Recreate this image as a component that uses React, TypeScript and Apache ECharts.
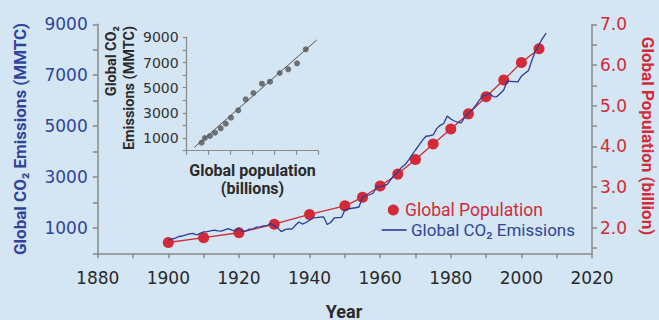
import React, { useEffect, useRef } from "react";
import * as echarts from "echarts";

// ---- Main chart data ----
const popYears = [1900, 1910, 1920, 1930, 1940, 1950, 1955, 1960, 1965, 1970, 1975, 1980, 1985, 1990, 1995, 2000, 2005];
const population = [1.64, 1.76, 1.88, 2.09, 2.33, 2.54, 2.75, 3.03, 3.32, 3.68, 4.06, 4.43, 4.8, 5.22, 5.63, 6.06, 6.4];

const co2StartYear = 1900;
const co2Emissions = [
  530, 560, 600, 660, 680, 720, 760, 780, 720, 780,
  840, 850, 880, 910, 880, 870, 920, 970, 910, 880,
  990, 850, 880, 950, 960, 1030, 1040, 1080, 1090, 1170,
  1080, 1000, 850, 930, 960, 950, 1100, 1230, 1150, 1210,
  1300, 1390, 1400, 1420, 1430, 1130, 1210, 1390, 1400, 1410,
  1690, 1750, 1770, 1790, 1820, 2200, 2280, 2300, 2360, 2610,
  2620, 2650, 2710, 2900, 3070, 3200, 3370, 3480, 3650, 3860,
  4060, 4250, 4450, 4600, 4620, 4650, 4900, 5030, 5100, 5400,
  5280, 5200, 5150, 5130, 5360, 5500, 5630, 5800, 6000, 6180,
  6220, 6290, 6160, 6150, 6280, 6420, 6770, 6760, 6750, 6740,
  6960, 7080, 7180, 7600, 7950, 8200, 8450, 8650,
];

// tick labels
const xLabelYears = [1880, 1900, 1920, 1940, 1960, 1980, 2000, 2020];
const leftLabelValues = [1000, 3000, 5000, 7000, 9000];
const rightTickValues = [1.5, 2.0, 2.5, 3.0, 3.5, 4.0, 4.5, 5.0, 5.5, 6.0, 6.5, 7.0];
const rightLabelValues = [2.0, 3.0, 4.0, 5.0, 6.0, 7.0];

// ---- Inset data ----
const insetPopulation = [1.68, 1.83, 2.06, 2.29, 2.55, 2.78, 3.02, 3.35, 3.69, 4.04, 4.43, 4.8, 5.24, 5.63, 6.03, 6.43];
const insetEmissions = [635, 1008, 1167, 1429, 1778, 2143, 2619, 3206, 4079, 4579, 5317, 5476, 6167, 6460, 6937, 8048];
const fitPopulation = [1.35, 6.93];
const fitEmissions = [270, 8786];
const insetLabelValues = [1000, 3000, 5000, 7000, 9000];

const BG = "#d4e5f3";
const BLUE = "#2f449a";
const BLUE_LINE = "#2b3b99";
const RED = "#d22a36";
const GRAY = "#8a8a8a";
const DARK = "#2a2a2a";
const FONT_NUM = "'DejaVu Sans', sans-serif";
const FONT_TXT = "Roboto, 'Noto Sans', sans-serif";

export default function App() {
  const ref = useRef<HTMLDivElement>(null);
  useEffect(() => {
    if (!ref.current) return;
    const chart = echarts.init(ref.current, undefined, { renderer: "svg" });
    const axisLine = { show: true, lineStyle: { color: GRAY, width: 1.5 } };
    const tick = { show: true, length: 5, lineStyle: { color: GRAY, width: 1.5 } };
    const option: any = {
      animation: false,
      backgroundColor: BG,
      grid: [
        { left: 97.7, right: 67, top: 24.3, bottom: 66.7 },
        { left: 186.7, top: 37.3, width: 131.6, height: 113.4 },
      ],
      xAxis: [
        {
          type: "value", gridIndex: 0, min: 1880, max: 2020, interval: 10,
          axisLine, axisTick: tick, splitLine: { show: false },
          axisLabel: {
            customValues: xLabelYears, margin: 16, color: DARK,
            fontFamily: FONT_NUM, fontSize: 17, formatter: (v: number) => String(v),
          },
        },
        {
          type: "value", gridIndex: 1, min: 1, max: 7, interval: 1,
          axisLine: { show: true, lineStyle: { color: GRAY, width: 1.2 } },
          axisTick: { show: true, length: 4, lineStyle: { color: GRAY, width: 1.2 } },
          axisLabel: { show: false }, splitLine: { show: false },
        },
      ],
      yAxis: [
        {
          type: "value", gridIndex: 0, position: "left", min: 0, max: 9000, interval: 1000,
          axisLine, axisTick: tick, splitLine: { show: false },
          axisLabel: {
            customValues: leftLabelValues, margin: 10, color: BLUE,
            fontFamily: FONT_NUM, fontSize: 17, formatter: (v: number) => String(v),
          },
        },
        {
          type: "value", gridIndex: 0, position: "right", min: 1.375, max: 7.0,
          axisLine, splitLine: { show: false },
          axisTick: { ...tick, customValues: rightTickValues },
          axisLabel: {
            customValues: rightLabelValues, margin: 8, color: RED,
            fontFamily: FONT_NUM, fontSize: 17, formatter: (v: number) => v.toFixed(1),
          },
        },
        {
          type: "value", gridIndex: 1, min: 0, max: 9000, interval: 1000,
          axisLine: { show: true, lineStyle: { color: GRAY, width: 1.2 } },
          axisTick: { show: true, length: 4, lineStyle: { color: GRAY, width: 1.2 } },
          splitLine: { show: false },
          axisLabel: {
            customValues: insetLabelValues, margin: 8, color: "#333",
            fontFamily: FONT_NUM, fontSize: 14, formatter: (v: number) => String(v),
          },
        },
      ],
      series: [
        {
          name: "Global Population", type: "line", xAxisIndex: 0, yAxisIndex: 1,
          data: popYears.map((y, i) => [y, population[i]]),
          symbol: "circle", symbolSize: 11, showSymbol: true,
          itemStyle: { color: RED }, lineStyle: { color: RED, width: 1.3 }, z: 2,
        },
        {
          name: "Global CO₂ Emissions", type: "line", xAxisIndex: 0, yAxisIndex: 0,
          data: co2Emissions.map((v, i) => [co2StartYear + i, v]),
          showSymbol: false, symbol: "none",
          lineStyle: { color: BLUE_LINE, width: 1.3 }, z: 3,
        },
        {
          type: "line", xAxisIndex: 1, yAxisIndex: 2,
          data: fitPopulation.map((p, i) => [p, fitEmissions[i]]),
          showSymbol: false, symbol: "none",
          lineStyle: { color: "#555", width: 1 }, z: 2,
        },
        {
          type: "scatter", xAxisIndex: 1, yAxisIndex: 2,
          data: insetPopulation.map((p, i) => [p, insetEmissions[i]]),
          symbolSize: 6, itemStyle: { color: "#555" }, z: 3,
        },
      ],
      graphic: [
        {
          type: "text", x: 20, y: 139, rotation: Math.PI / 2,
          style: { text: "Global CO₂ Emissions (MMTC)", fill: BLUE, fontFamily: FONT_TXT, fontSize: 17, fontWeight: "bold", align: "center", verticalAlign: "middle" },
        },
        {
          type: "text", x: 648, y: 136, rotation: -Math.PI / 2,
          style: { text: "Global Population (billion)", fill: RED, fontFamily: FONT_TXT, fontSize: 17, fontWeight: "bold", align: "center", verticalAlign: "middle" },
        },
        {
          type: "text", x: 344, y: 311,
          style: { text: "Year", fill: DARK, fontFamily: FONT_TXT, fontSize: 18, fontWeight: "bold", align: "center", verticalAlign: "middle" },
        },
        {
          type: "text", x: 111.7, y: 26, rotation: Math.PI / 2,
          style: { text: "Global CO₂", fill: DARK, fontFamily: FONT_TXT, fontSize: 14.5, fontWeight: "bold", align: "right", verticalAlign: "middle" },
        },
        {
          type: "text", x: 129.5, y: 26, rotation: Math.PI / 2,
          style: { text: "Emissions (MMTC)", fill: DARK, fontFamily: FONT_TXT, fontSize: 14.5, fontWeight: "bold", align: "right", verticalAlign: "middle" },
        },
        {
          type: "text", x: 252.5, y: 170,
          style: { text: "Global population", fill: DARK, fontFamily: FONT_TXT, fontSize: 16, fontWeight: "bold", align: "center", verticalAlign: "middle" },
        },
        {
          type: "text", x: 252.5, y: 188,
          style: { text: "(billions)", fill: DARK, fontFamily: FONT_TXT, fontSize: 16, fontWeight: "bold", align: "center", verticalAlign: "middle" },
        },
        { type: "circle", shape: { cx: 393.3, cy: 210, r: 5.5 }, style: { fill: RED } },
        {
          type: "text", x: 405, y: 210,
          style: { text: "Global Population", fill: RED, fontFamily: FONT_TXT, fontSize: 17.5, align: "left", verticalAlign: "middle" },
        },
        { type: "line", shape: { x1: 381.7, y1: 230, x2: 406.7, y2: 230 }, style: { stroke: BLUE_LINE, lineWidth: 1.6 } },
        {
          type: "text", x: 411, y: 230,
          style: { text: "Global CO₂ Emissions", fill: BLUE, fontFamily: FONT_TXT, fontSize: 17, align: "left", verticalAlign: "middle" },
        },
      ],
    };
    chart.setOption(option);
    return () => chart.dispose();
  }, []);
  return (
    <div
      ref={ref}
      style={{ position: "fixed", left: 0, top: 0, width: 659, height: 320, background: BG }}
    />
  );
}
